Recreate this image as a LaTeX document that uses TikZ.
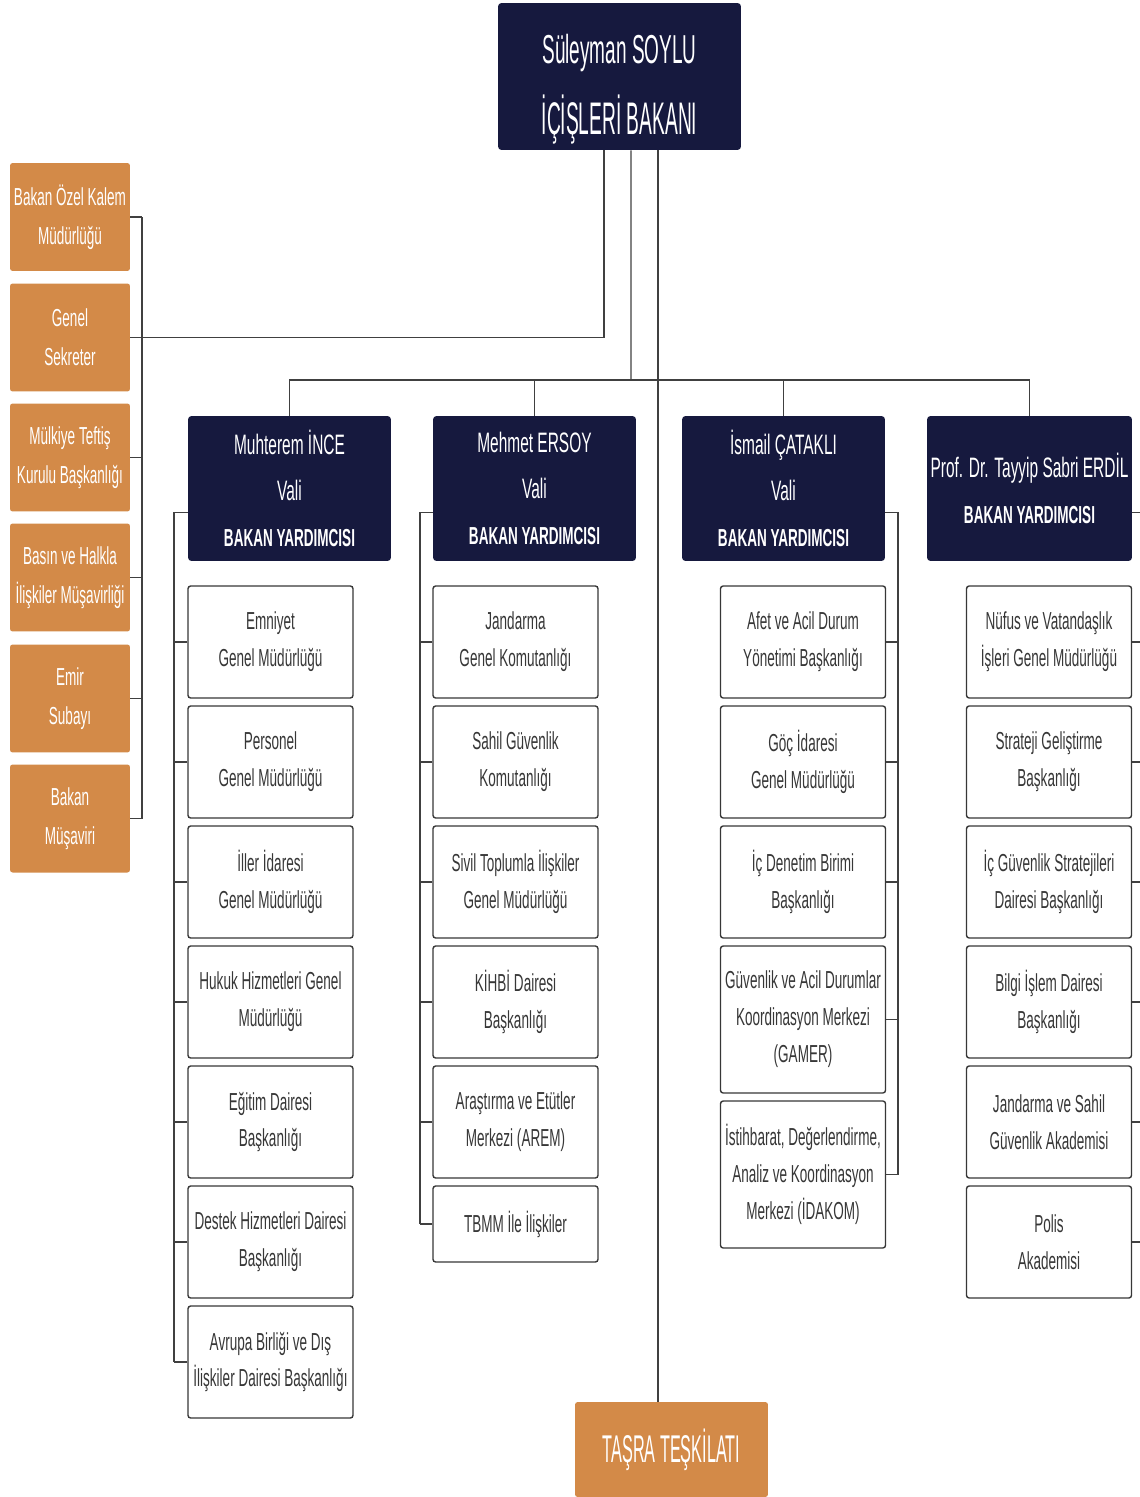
\documentclass[tikz,border=0pt]{standalone}
\usepackage{fontspec}
\setmainfont[FakeStretch=0.55]{Liberation Sans}
\newfontfamily\titlefont[FakeStretch=0.42]{Liberation Sans}
\newfontfamily\namefont[FakeStretch=0.47]{Liberation Sans}
\usetikzlibrary{positioning,calc}
\definecolor{navy}{RGB}{22,25,62}
\definecolor{ochre}{RGB}{211,138,72}
\definecolor{ink}{RGB}{55,55,55}

\tikzset{
	chief/.style={fill=navy, text=white, rounded corners=2pt, align=center, inner sep=0pt},
	side/.style={fill=ochre, text=white, rounded corners=1.5pt, align=center, inner sep=0pt,
		minimum width=2.4cm, minimum height=2.16cm, font=\fontsize{14}{22}\selectfont},
	deputy/.style={chief, minimum width=4.06cm, minimum height=2.9cm, font=\fontsize{16}{26}\selectfont},
	unit/.style={draw=ink, line width=0.8pt, fill=white, text=ink, rounded corners=1.5pt, align=center,
		inner sep=0pt, minimum width=3.3cm, minimum height=2.24cm, font=\fontsize{14}{21}\selectfont},
	link/.style={draw=black!75, line width=0.8pt},
}
\newcommand{\yard}{{\fontsize{14}{26}\selectfont\bfseries BAKAN YARDIMCISI}}

\begin{document}
\begin{tikzpicture}[x=0.02cm, y=-0.02cm]
	\useasboundingbox (0,0) rectangle (1139,1497);

	\node [chief, minimum width=4.86cm, minimum height=2.94cm, font=\namefont\fontsize{23}{40}\selectfont]
	(top) at (619.5,76.5) {\rule{0pt}{31pt}Süleyman SOYLU\\{\titlefont\fontsize{26}{41}\selectfont İÇİŞLERİ BAKANI}};

	\node [side] (side1) at (70,217) {Bakan Özel Kalem\\Müdürlüğü};
	\node [side] (side2) at (70,337.5) {Genel\\Sekreter};
	\node [side] (side3) at (70,457.5) {Mülkiye Teftiş\\Kurulu Başkanlığı};
	\node [side] (side4) at (70,577.5) {Basın ve Halkla\\İlişkiler Müşavirliği};
	\node [side] (side5) at (70,698.5) {Emir\\Subayı};
	\node [side] (side6) at (70,818.5) {Bakan\\Müşaviri};

	\node [deputy] (dep1) at (289.5,488.5) {Muhterem İNCE\\Vali\\\yard};
	\node [deputy] (dep2) at (534.5,488.5) {Mehmet ERSOY\\Vali\\\yard};
	\node [deputy] (dep3) at (783.5,488.5) {İsmail ÇATAKLI\\Vali\\\yard};
	\node [deputy, minimum width=4.1cm] (dep4) at (1029.5,488.5) {Prof. Dr. Tayyip Sabri ERDİL\\\yard};

	\node [unit] (a1) at (270.5,642) {Emniyet\\Genel Müdürlüğü};
	\node [unit] (a2) at (270.5,762) {Personel\\Genel Müdürlüğü};
	\node [unit] (a3) at (270.5,882) {İller İdaresi\\Genel Müdürlüğü};
	\node [unit] (a4) at (270.5,1002) {Hukuk Hizmetleri Genel\\Müdürlüğü};
	\node [unit] (a5) at (270.5,1122) {Eğitim Dairesi\\Başkanlığı};
	\node [unit] (a6) at (270.5,1242) {Destek Hizmetleri Dairesi\\Başkanlığı};
	\node [unit] (a7) at (270.5,1362) {Avrupa Birliği ve Dış\\İlişkiler Dairesi Başkanlığı};

	\node [unit] (b1) at (515.5,642) {Jandarma\\Genel Komutanlığı};
	\node [unit] (b2) at (515.5,762) {Sahil Güvenlik\\Komutanlığı};
	\node [unit] (b3) at (515.5,882) {Sivil Toplumla İlişkiler\\Genel Müdürlüğü};
	\node [unit] (b4) at (515.5,1002) {KİHBİ Dairesi\\Başkanlığı};
	\node [unit] (b5) at (515.5,1122) {Araştırma ve Etütler\\Merkezi (AREM)};
	\node [unit, minimum height=1.52cm] (b6) at (515.5,1224) {TBMM İle İlişkiler};

	\node [unit] (c1) at (803,642) {Afet ve Acil Durum\\Yönetimi Başkanlığı};
	\node [unit] (c2) at (803,762) {Göç İdaresi\\Genel Müdürlüğü};
	\node [unit] (c3) at (803,882) {İç Denetim Birimi\\Başkanlığı};
	\node [unit, minimum height=2.94cm] (c4) at (803,1019.5) {Güvenlik ve Acil Durumlar\\Koordinasyon Merkezi\\(GAMER)};
	\node [unit, minimum height=2.94cm] (c5) at (803,1174.5) {İstihbarat, Değerlendirme,\\Analiz ve Koordinasyon\\Merkezi (İDAKOM)};

	\node [unit] (d1) at (1049,642) {Nüfus ve Vatandaşlık\\İşleri Genel Müdürlüğü};
	\node [unit] (d2) at (1049,762) {Strateji Geliştirme\\Başkanlığı};
	\node [unit] (d3) at (1049,882) {İç Güvenlik Stratejileri\\Dairesi Başkanlığı};
	\node [unit] (d4) at (1049,1002) {Bilgi İşlem Dairesi\\Başkanlığı};
	\node [unit] (d5) at (1049,1122) {Jandarma ve Sahil\\Güvenlik Akademisi};
	\node [unit] (d6) at (1049,1242) {Polis\\Akademisi};

	\node [side, minimum width=3.86cm, minimum height=1.9cm] (tasra) at (671.5,1449.5)
	{{\titlefont\fontsize{22}{26}\selectfont TAŞRA TEŞKİLATI}};

	% from the minister
	\draw [link] ($(top.south)+(-15.5,0)$) |- (side2.east);
	\coordinate (bus) at (631,380);
	\draw [link] ($(top.south)+(11.5,0)$) -- (bus);
	\draw [link] (dep1.north) -- (dep1.north |- bus) -- (dep4.north |- bus) -- (dep4.north);
	\foreach \d in {dep2,dep3}
	\draw [link] (\d.north) -- (\d.north |- bus);
	\draw [link] ($(top.south)+(38.5,0)$) coordinate (tl) -- (tl |- tasra.north);

	% left column
	\coordinate (s0) at (142,0);
	\foreach \i in {1,...,6}
	\draw [link] (side\i.east) -- (side\i.east -| s0);
	\draw [link] (side1.east -| s0) -- (side6.east -| s0);

	% deputies
	\coordinate (s1) at (174,0);
	\coordinate (s2) at (420,0);
	\coordinate (s3) at (898,0);
	\coordinate (s4) at (1142,0);
	\draw [link] ($(dep1.west)+(0,24)$) coordinate (t1) -- (t1 -| s1) -- (a7.west -| s1);
	\foreach \i in {1,...,7}
	\draw [link] (a\i.west) -- (a\i.west -| s1);
	\draw [link] ($(dep2.west)+(0,24)$) coordinate (t2) -- (t2 -| s2) -- (b6.west -| s2);
	\foreach \i in {1,...,6}
	\draw [link] (b\i.west) -- (b\i.west -| s2);
	\draw [link] ($(dep3.east)+(0,24)$) coordinate (t3) -- (t3 -| s3) -- (c5.east -| s3);
	\foreach \i in {1,...,5}
	\draw [link] (c\i.east) -- (c\i.east -| s3);
	\draw [link] ($(dep4.east)+(0,24)$) coordinate (t4) -- (t4 -| s4) -- (d6.east -| s4);
	\foreach \i in {1,...,6}
	\draw [link] (d\i.east) -- (d\i.east -| s4);
\end{tikzpicture}
\end{document}
